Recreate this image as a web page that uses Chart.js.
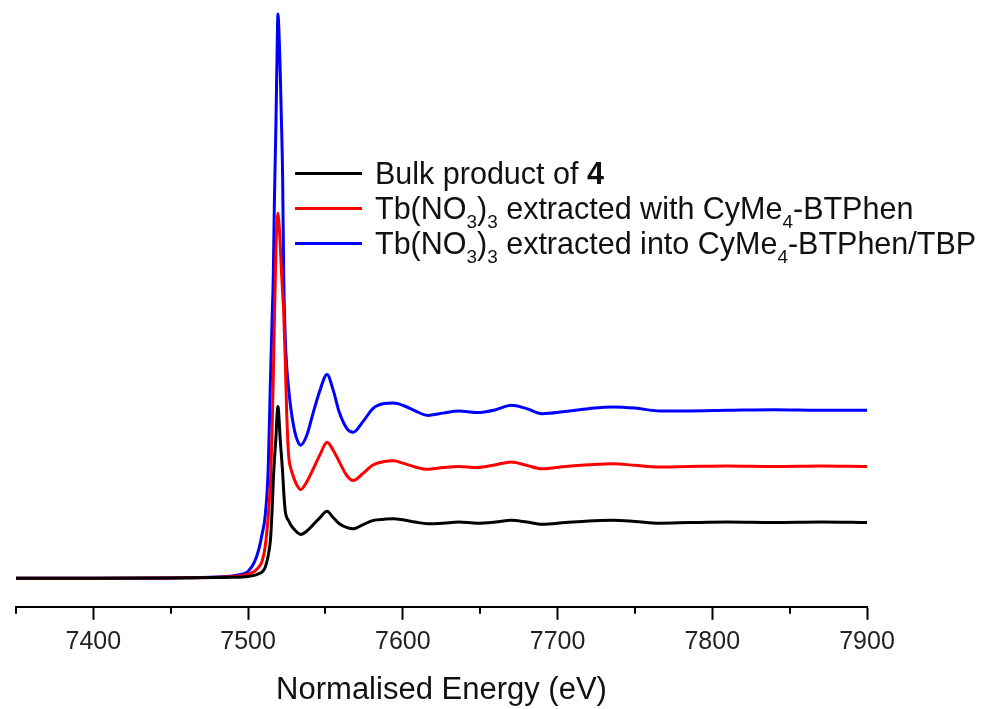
<!DOCTYPE html>
<html>
<head>
<meta charset="utf-8">
<script src="https://cdn.jsdelivr.net/npm/chart.js@4/dist/chart.umd.min.js"></script>
<style>
  html, body { margin: 0; padding: 0; background: #fff; }
  #wrap { position: relative; width: 995px; height: 709px; }
  #legend { position: absolute; left: 295px; top: 156px; font-family: "Liberation Sans", Arial, sans-serif; font-size: 30.5px; color: #111; }
  #legend .row { display: flex; align-items: center; height: 35px; white-space: nowrap; }
  #legend .sw { width: 67px; height: 3px; margin-right: 13px; }
  #legend sub { font-size: 62%; vertical-align: -0.45em; line-height: 0; }
</style>
</head>
<body>
<div id="wrap">
  <canvas id="xanesChart" width="995" height="709"></canvas>
  <div id="legend"></div>
</div>
<script>
// Энергия (eV)
var energy = [7350, 7400, 7450, 7480, 7490, 7496, 7500, 7504, 7507, 7509, 7511, 7513, 7514.5, 7515.5, 7516.3, 7517,
  7518, 7518.7, 7519.3, 7520, 7520.7, 7521.5, 7522.3, 7523, 7524, 7525, 7526.3, 7527.5, 7529.5, 7531.5, 7534,
  7538, 7542, 7546.5, 7551, 7555, 7559, 7564, 7568, 7574, 7581, 7588, 7594, 7600, 7608, 7616, 7626, 7636, 7648,
  7660, 7670, 7680, 7690, 7705, 7720, 7736, 7750, 7766, 7785, 7810, 7840, 7870, 7900];

// Bulk product of 4
var bulkValues = [0, 0, 0.003, 0.01, 0.015, 0.02, 0.03, 0.05, 0.08, 0.11, 0.19, 0.4, 0.7, 1.2, 1.74, 2.1,
  2.5, 2.9, 3.06, 2.85, 2.5, 2.2, 1.9, 1.55, 1.2, 1.08, 1.02, 0.95, 0.88, 0.82, 0.78,
  0.84, 0.95, 1.08, 1.19, 1.08, 0.97, 0.9, 0.88, 0.95, 1.03, 1.05, 1.06, 1.04, 1.0, 0.97, 0.98, 1.0, 0.98,
  1.0, 1.03, 1.0, 0.96, 0.99, 1.02, 1.03, 1.01, 0.98, 0.99, 1.0, 0.99, 1.0, 0.99];

// Tb(NO3)3 extracted with CyMe4-BTPhen
var withValues = [0, 0, 0.005, 0.015, 0.03, 0.05, 0.07, 0.12, 0.2, 0.3, 0.55, 1.1, 1.74, 2.6, 3.6, 4.6,
  5.85, 6.35, 6.5, 6.3, 6.0, 5.5, 5.1, 4.75, 3.9, 2.9, 2.15, 1.97, 1.79, 1.66, 1.58,
  1.72, 1.94, 2.2, 2.42, 2.28, 2.07, 1.82, 1.74, 1.86, 2.02, 2.08, 2.09, 2.05, 1.98, 1.94, 1.97, 1.99, 1.97,
  2.02, 2.07, 2.01, 1.95, 1.99, 2.02, 2.04, 2.01, 1.98, 1.99, 2.0, 1.99, 2.0, 1.99];

// Tb(NO3)3 extracted into CyMe4-BTPhen/TBP
var intoValues = [0, 0, 0.005, 0.02, 0.04, 0.07, 0.12, 0.28, 0.52, 0.78, 1.1, 1.95, 3.6, 4.6, 5.4, 6.7,
  8.1, 9.3, 10.05, 9.7, 9.1, 8.2, 7.2, 5.4, 4.3, 3.75, 3.35, 3.05, 2.7, 2.48, 2.37,
  2.55, 2.94, 3.35, 3.63, 3.35, 2.95, 2.66, 2.6, 2.78, 3.03, 3.11, 3.12, 3.08, 2.98, 2.9, 2.94, 2.98, 2.95,
  3.0, 3.08, 3.02, 2.93, 2.97, 3.02, 3.05, 3.03, 2.98, 2.98, 2.99, 3.0, 2.99, 2.99];

// Подписи делений оси X
var majorTicks = [7400, 7500, 7600, 7700, 7800, 7900];
var minorTicks = [7350, 7450, 7550, 7650, 7750, 7850];

// Легенда (части текста, sub = нижний индекс)
var seriesNames = [
  [{t: 'Bulk product of '}, {t: '4', b: true}],
  [{t: 'Tb(NO'}, {t: '3', sub: true}, {t: ')'}, {t: '3', sub: true}, {t: ' extracted with CyMe'}, {t: '4', sub: true}, {t: '-BTPhen'}],
  [{t: 'Tb(NO'}, {t: '3', sub: true}, {t: ')'}, {t: '3', sub: true}, {t: ' extracted into CyMe'}, {t: '4', sub: true}, {t: '-BTPhen/TBP'}]
];
var seriesColors = ['#000000', '#ff0000', '#0000ff'];
var seriesValues = [bulkValues, withValues, intoValues];

function toPoints(vals) {
  return energy.map(function (e, i) { return {x: e, y: vals[i]}; });
}

var font = '"Liberation Sans", Arial, sans-serif';

// Малые деления оси
var minorTickPlugin = {
  id: 'minorTicks',
  afterDraw: function (chart) {
    var ctx = chart.ctx;
    var xs = chart.scales.x;
    var y0 = chart.chartArea.bottom;
    ctx.save();
    ctx.strokeStyle = '#000';
    ctx.lineWidth = 2;
    minorTicks.forEach(function (v) {
      var px = Math.round(xs.getPixelForValue(v));
      ctx.beginPath();
      ctx.moveTo(px, y0);
      ctx.lineTo(px, y0 + 7);
      ctx.stroke();
    });
    ctx.restore();
  }
};

var ctx = document.getElementById('xanesChart').getContext('2d');
var chart = new Chart(ctx, {
  type: 'line',
  data: {
    datasets: seriesValues.map(function (vals, i) {
      return {
        label: seriesNames[i].map(function (p) { return p.t; }).join(''),
        data: toPoints(vals),
        borderColor: seriesColors[i],
        borderWidth: 3,
        pointRadius: 0,
        cubicInterpolationMode: 'monotone',
        fill: false
      };
    })
  },
  options: {
    responsive: false,
    animation: false,
    layout: { padding: { left: 16, right: 128, top: 0, bottom: 0 } },
    scales: {
      x: {
        type: 'linear',
        min: 7350,
        max: 7900,
        afterBuildTicks: function (scale) {
          scale.ticks = majorTicks.map(function (v) { return {value: v}; });
        },
        border: { display: true, color: '#000', width: 2 },
        grid: { drawOnChartArea: false, drawTicks: true, tickLength: 13, tickColor: '#000', tickWidth: 2 },
        ticks: {
          color: '#222',
          padding: 7,
          maxRotation: 0,
          font: { size: 25, family: font },
          callback: function (v) { return String(v); }
        },
        title: {
          display: true,
          text: 'Normalised Energy (eV)',
          color: '#111',
          font: { size: 31, family: font },
          padding: { top: 8, bottom: 0 }
        }
      },
      y: {
        display: false,
        min: -0.51,
        max: 10.3
      }
    },
    plugins: {
      legend: { display: false },
      tooltip: { enabled: false }
    }
  },
  plugins: [minorTickPlugin]
});

// HTML-легенда с нижними индексами
var legendEl = document.getElementById('legend');
seriesNames.forEach(function (parts, i) {
  var row = document.createElement('div');
  row.className = 'row';
  var sw = document.createElement('span');
  sw.className = 'sw';
  sw.style.background = seriesColors[i];
  row.appendChild(sw);
  var txt = document.createElement('span');
  parts.forEach(function (p) {
    var el = document.createElement(p.sub ? 'sub' : (p.b ? 'b' : 'span'));
    el.textContent = p.t;
    txt.appendChild(el);
  });
  row.appendChild(txt);
  legendEl.appendChild(row);
});
</script>
</body>
</html>
